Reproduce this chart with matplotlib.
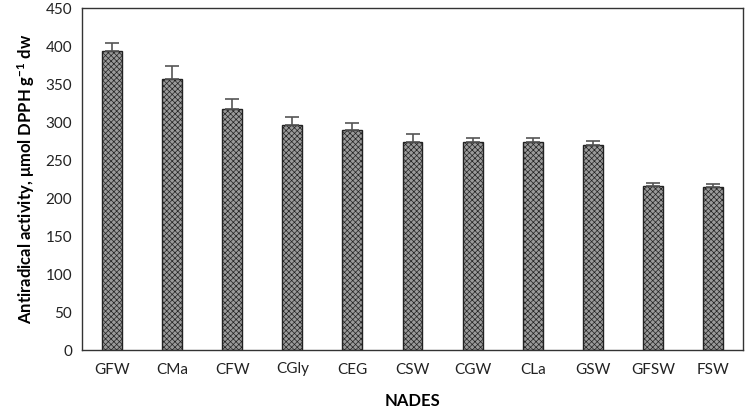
import matplotlib.pyplot as plt

# NADES antiradical activity data
nades = ['GFW', 'CMa', 'CFW', 'CGly', 'CEG', 'CSW', 'CGW', 'CLa', 'GSW', 'GFSW', 'FSW']
activity = [393, 357, 317, 296, 289, 274, 274, 274, 270, 216, 214]
errors = [11, 17, 13, 11, 10, 10, 5, 5, 5, 4, 5]

plt.rcParams['font.family'] = ['Lato', 'DejaVu Sans']
plt.rcParams['mathtext.fontset'] = 'custom'
plt.rcParams['mathtext.rm'] = 'Lato'
plt.rcParams['mathtext.default'] = 'regular'
plt.rcParams['hatch.color'] = '#555555'
plt.rcParams['hatch.linewidth'] = 0.5

fig = plt.figure(figsize=(7.49, 4.08), dpi=100)
ax = fig.add_axes([82 / 749, 58 / 408, 661 / 749, 342 / 408])

x = range(len(nades))
ax.bar(x, activity, width=0.33, color='#9a9a9a', edgecolor='#222222', linewidth=1.0,
       hatch='xxxxxx', zorder=2)
ax.errorbar(x, activity, yerr=[[0] * len(errors), errors], fmt='none', ecolor='#555555',
            elinewidth=1.2, capsize=5, capthick=1.2, zorder=3)

ax.set_xlim(-0.5, len(nades) - 0.5)
ax.set_ylim(0, 450)
ax.set_yticks(range(0, 451, 50))
ax.set_xticks(list(x))
ax.set_xticklabels(nades)
ax.tick_params(axis='both', length=0, labelsize=11, colors='#222222')
ax.tick_params(axis='x', pad=9)
ax.tick_params(axis='y', pad=7)
for s in ax.spines.values():
    s.set_color('#333333')
    s.set_linewidth(1.0)

ax.set_xlabel('NADES', fontsize=12, fontweight='bold', labelpad=12)
ax.set_ylabel('Antiradical activity, μmol DPPH g$^{-1}$ dw', fontsize=12, fontweight='bold', labelpad=6)

fig.savefig('out.png', dpi=100)
